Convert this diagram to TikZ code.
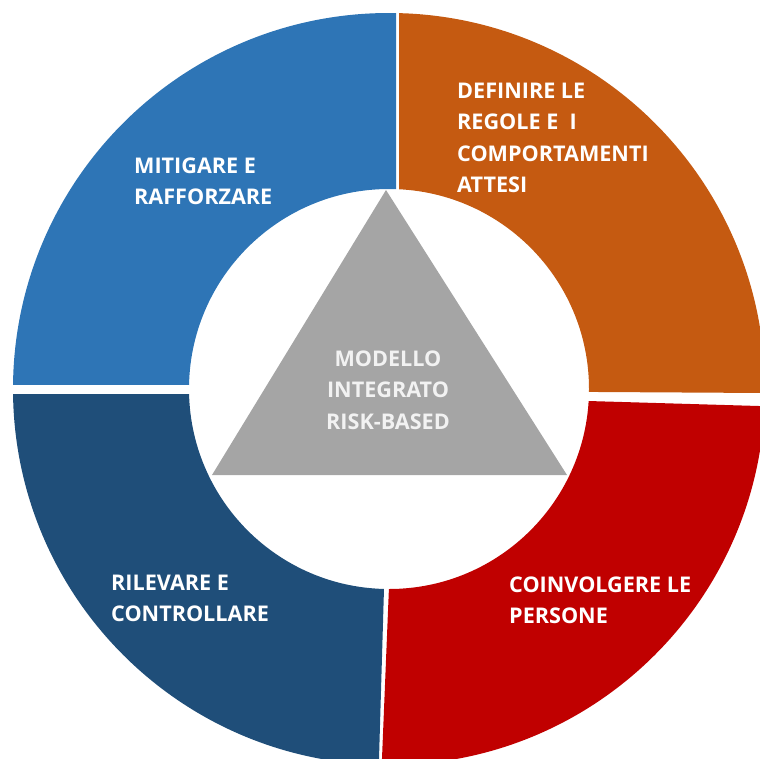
\documentclass[tikz,border=0pt]{standalone}
\usepackage{fontspec}
\setmainfont{Open Sans}
\definecolor{cblue}{HTML}{2E75B6}
\definecolor{corange}{HTML}{C55A11}
\definecolor{cred}{HTML}{C00000}
\definecolor{cdark}{HTML}{1F4E79}
\definecolor{cgray}{HTML}{A5A5A5}
\definecolor{ctext}{HTML}{F2F2F2}
\tikzset{
  seglabel/.style={text=white, font=\bfseries\fontsize{21.6}{31.6}\selectfont, align=left, anchor=north west, inner sep=0pt},
  midlabel/.style={text=ctext, font=\bfseries\fontsize{21.6}{31.6}\selectfont, align=center, anchor=north, inner sep=0pt},
  ring/.style={even odd rule}
}
\begin{document}
\begin{tikzpicture}[x=1pt,y=-1pt]
\useasboundingbox (0,0) rectangle (760,758);
\coordinate (O) at (389,389);
% top-left segment
\begin{scope}
  \clip (0,0) -- (396,0) -- (396,384) -- (0,384) -- cycle;
  \fill[cblue, ring] (O) circle[radius=376pt] (O) circle[radius=200pt];
\end{scope}
% top-right segment
\begin{scope}
  \clip (399,0) -- (800,0) -- (800,393.2) -- (399,390.8) -- cycle;
  \fill[corange, ring] (O) circle[radius=376pt] (O) circle[radius=200pt];
\end{scope}
% bottom-right segment
\begin{scope}
  \clip (396.8,395.4) -- (800,407.2) -- (800,800) -- (380.3,800) -- cycle;
  \fill[cred, ring] (O) circle[radius=376pt] (O) circle[radius=200pt];
\end{scope}
% bottom-left segment
\begin{scope}
  \clip (0,394) -- (389.7,394) -- (377.8,800) -- (0,800) -- cycle;
  \fill[cdark, ring] (O) circle[radius=376pt] (O) circle[radius=200pt];
\end{scope}
% central triangle
\coordinate (apex) at (386,190);
\coordinate (bl) at (212,475);
\coordinate (br) at (567,475);
\fill[cgray] (apex) -- (bl) -- (br) -- cycle;
% labels
\node[seglabel] (tl) at (134,157.5) {MITIGARE E\\RAFFORZARE};
\node[seglabel] (tr) at (457,82.5) {DEFINIRE LE\\REGOLE E\ \ I\\COMPORTAMENTI\\ATTESI};
\node[seglabel] (br2) at (509,576.5) {COINVOLGERE LE\\PERSONE};
\node[seglabel] (bl2) at (111,574.5) {RILEVARE E\\CONTROLLARE};
\node[midlabel] (mid) at (388,350.5) {MODELLO\\INTEGRATO\\RISK-BASED};
\end{tikzpicture}
\end{document}
